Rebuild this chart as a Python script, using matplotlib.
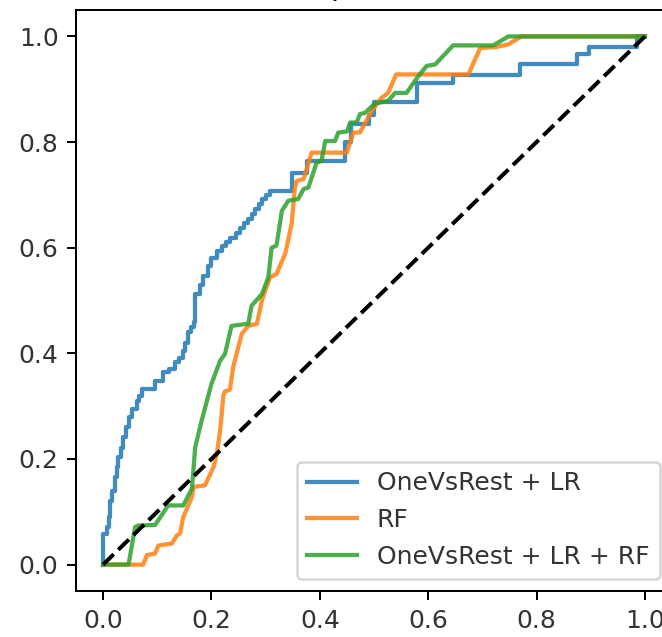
import numpy as np
import matplotlib
matplotlib.use('Agg')
import matplotlib.pyplot as plt

# Curva ROC: OneVsRest + LR (escalones, esquina superior de cada subida)
fpr_lr = [0.0, 0.0, 0.007, 0.01, 0.013, 0.017, 0.022, 0.025, 0.028, 0.033, 0.037, 0.042, 0.047,
          0.053, 0.062, 0.067, 0.071, 0.096, 0.11, 0.122, 0.133, 0.14, 0.148, 0.152, 0.157,
          0.162, 0.167, 0.17, 0.178, 0.185, 0.193, 0.2, 0.21, 0.219, 0.227, 0.234, 0.245,
          0.253, 0.26, 0.268, 0.275, 0.28, 0.287, 0.293, 0.3, 0.308, 0.348, 0.376, 0.446,
          0.458, 0.49, 0.5, 0.579, 0.646, 0.769, 0.874, 0.896, 0.985, 1.0]
tpr_lr = [0.0, 0.058, 0.071, 0.09, 0.12, 0.14, 0.166, 0.185, 0.203, 0.22, 0.241, 0.26, 0.279,
          0.295, 0.31, 0.32, 0.333, 0.348, 0.364, 0.37, 0.383, 0.392, 0.405, 0.42, 0.44,
          0.45, 0.459, 0.512, 0.53, 0.547, 0.565, 0.581, 0.594, 0.604, 0.61, 0.619, 0.628,
          0.638, 0.646, 0.654, 0.663, 0.673, 0.682, 0.692, 0.7, 0.708, 0.742, 0.764, 0.80,
          0.835, 0.852, 0.876, 0.912, 0.926, 0.947, 0.966, 0.98, 1.0, 1.0]

# Curva ROC: RF
fpr_rf = [0.0, 0.074, 0.081, 0.096, 0.102, 0.127, 0.136, 0.142, 0.148, 0.164, 0.167, 0.188,
          0.204, 0.21, 0.216, 0.222, 0.225, 0.234, 0.24, 0.256, 0.268, 0.284, 0.293, 0.308,
          0.32, 0.336, 0.348, 0.354, 0.357, 0.37, 0.385, 0.45, 0.462, 0.474, 0.496, 0.514,
          0.526, 0.541, 0.674, 0.696, 0.726, 0.748, 0.772, 1.0]
tpr_rf = [0.0, 0.0, 0.018, 0.021, 0.036, 0.04, 0.055, 0.059, 0.09, 0.128, 0.147, 0.15,
          0.185, 0.21, 0.254, 0.32, 0.328, 0.331, 0.374, 0.437, 0.452, 0.456, 0.5, 0.544,
          0.55, 0.588, 0.645, 0.714, 0.726, 0.73, 0.78, 0.78, 0.818, 0.818, 0.859, 0.884,
          0.893, 0.928, 0.928, 0.978, 0.98, 0.985, 1.0, 1.0]

# Curva ROC: OneVsRest + LR + RF
fpr_ens = [0.0, 0.047, 0.059, 0.065, 0.096, 0.12, 0.148, 0.164, 0.17, 0.182, 0.2, 0.216,
           0.225, 0.237, 0.268, 0.274, 0.293, 0.305, 0.311, 0.32, 0.33, 0.342, 0.36, 0.37,
           0.379, 0.394, 0.403, 0.41, 0.428, 0.434, 0.45, 0.456, 0.468, 0.474, 0.483, 0.502,
           0.526, 0.539, 0.56, 0.582, 0.597, 0.613, 0.646, 0.72, 0.748, 1.0]
tpr_ens = [0.0, 0.0, 0.071, 0.074, 0.075, 0.112, 0.112, 0.144, 0.222, 0.273, 0.342, 0.386,
           0.399, 0.452, 0.456, 0.49, 0.512, 0.544, 0.6, 0.604, 0.67, 0.689, 0.692, 0.711,
           0.714, 0.761, 0.764, 0.802, 0.802, 0.818, 0.82, 0.837, 0.837, 0.853, 0.855, 0.873,
           0.878, 0.893, 0.893, 0.925, 0.944, 0.947, 0.983, 0.983, 1.0, 1.0]

labels = ['OneVsRest + LR', 'RF', 'OneVsRest + LR + RF']

dpi = 180
fig = plt.figure(figsize=(662 / dpi, 637 / dpi), dpi=dpi)
# el eje se sale un poco por la derecha, como en la captura original
ax = fig.add_axes([76 / 662, 46 / 637, 596 / 662, 581 / 637])

ax.plot(fpr_lr, tpr_lr, drawstyle='steps-post', lw=1.7, alpha=0.85, label=labels[0])
ax.plot(fpr_rf, tpr_rf, lw=1.7, alpha=0.85, label=labels[1])
ax.plot(fpr_ens, tpr_ens, lw=1.7, alpha=0.85, label=labels[2])
ax.plot([0, 1], [0, 1], 'k--', lw=1.6)

ax.set_xlim(-0.05, 1.05)
ax.set_ylim(-0.05, 1.05)
ax.set_xticks(np.arange(0, 1.01, 0.2))
ax.set_yticks(np.arange(0, 1.01, 0.2))
ax.tick_params(labelcolor='#333333')
ax.set_title('ROC comparison on test')
ax.legend(loc='lower right', labelcolor='#333333')

fig.savefig('out.png', dpi=dpi)
